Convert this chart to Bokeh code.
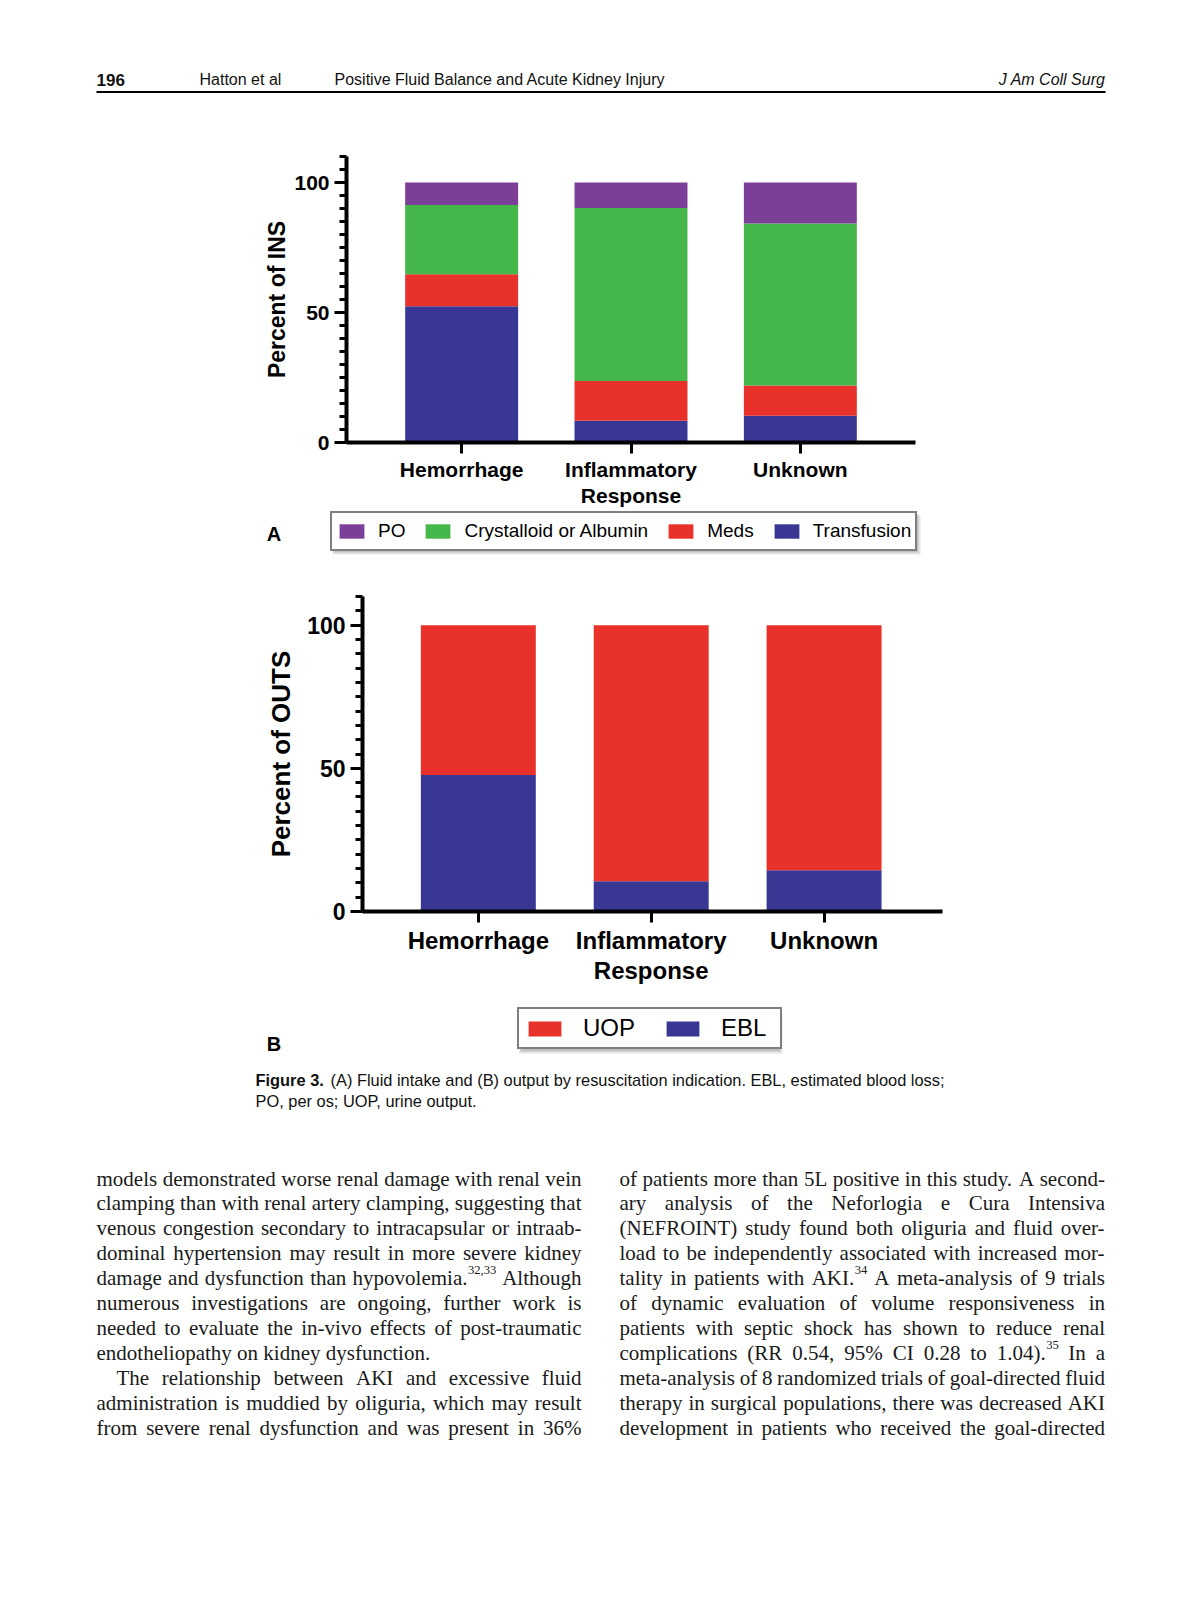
from bokeh.plotting import figure
from bokeh.layouts import column
from bokeh.models import (Range1d, FixedTicker, Legend, LegendItem, LinearAxis,
                          ColumnDataSource)
from bokeh.embed import file_html
from bokeh.resources import INLINE
from bokeh.core.properties import value

# ---------------- data ----------------
categories = ["Hemorrhage", "Inflammatory Response", "Unknown"]
# Panel A: percent of intake (INS), stacked bottom-up
transfusion = [52.4, 8.4, 10.3]
meds = [12.3, 15.3, 11.6]
crystalloid = [26.6, 66.5, 62.3]
po = [8.7, 9.8, 15.8]
# Panel B: percent of output (OUTS), stacked bottom-up
ebl = [47.7, 10.6, 14.4]
uop = [52.3, 89.4, 85.6]
y_ticks = [0, 50, 100]
y_minor_ticks = [0, 5, 10, 15, 20, 25, 30, 35, 40, 45, 50, 55, 60, 65, 70, 75,
                 80, 85, 90, 95, 100, 105, 110]

# category positions on the x scale and their (two-line) tick labels
x_pos = list(range(1, len(categories) + 1))
label_line1 = {i: c.split(" ")[0] for i, c in zip(x_pos, categories)}
label_line2 = {i: " ".join(c.split(" ")[1:]) for i, c in zip(x_pos, categories)}

PURPLE = "#7b3f98"
GREEN = "#45b649"
RED = "#e8312a"
BLUE = "#383793"

SANS = "Liberation Sans"
SERIF = "Liberation Serif"
W = 1200


def base_fig(height, **kw):
    p = figure(width=W, height=height, output_backend="svg", toolbar_location=None,
               title=None, frame_align=False, **kw)
    p.outline_line_color = None
    p.background_fill_color = "white"
    p.border_fill_color = "white"
    return p


def page_fig(height, y_top, y_bottom):
    p = base_fig(height, x_range=Range1d(0, W), y_range=Range1d(y_bottom, y_top),
                 x_axis_location=None, y_axis_location=None,
                 min_border_left=0, min_border_right=0, min_border_top=0, min_border_bottom=0)
    p.grid.visible = False
    return p


def style_axes(p, tick_fs, xlab_fs, ylab_fs, ylabel, standoff):
    for ax in (p.xaxis[0], p.yaxis[0]):
        ax.axis_line_width = 4
        ax.axis_line_color = "black"
        ax.major_tick_line_width = 3
        ax.minor_tick_line_width = 3
        ax.major_tick_in = 0
        ax.minor_tick_in = 0
        ax.major_label_text_font = SANS
        ax.major_label_text_font_style = "bold"
        ax.major_label_text_color = "black"
    ya = p.yaxis[0]
    ya.ticker = FixedTicker(ticks=y_ticks, minor_ticks=y_minor_ticks)
    ya.major_tick_out = 12
    ya.minor_tick_out = 7
    ya.major_label_text_font_size = tick_fs
    ya.major_label_standoff = 5
    ya.axis_label = ylabel
    ya.axis_label_text_font = SANS
    ya.axis_label_text_font_style = "bold"
    ya.axis_label_text_font_size = ylab_fs
    ya.axis_label_text_color = "black"
    ya.axis_label_standoff = standoff
    xa = p.xaxis[0]
    xa.ticker = FixedTicker(ticks=x_pos)
    xa.minor_tick_line_color = None
    xa.major_tick_out = 11
    xa.major_label_text_font_size = xlab_fs
    xa.major_label_standoff = 4
    xa.major_label_overrides = label_line1
    # second line of the category labels
    xa2 = LinearAxis(ticker=FixedTicker(ticks=x_pos), axis_line_color=None,
                     major_tick_line_color=None, minor_tick_line_color=None,
                     major_tick_out=0, major_tick_in=0, major_label_standoff=0,
                     major_label_overrides=label_line2,
                     major_label_text_font=SANS, major_label_text_font_style="bold",
                     major_label_text_font_size=xlab_fs, major_label_text_color="black")
    p.add_layout(xa2, "below")
    p.xgrid.visible = False
    p.ygrid.visible = False


def legend_fig(height, y_top, y_bottom, items, loc, gw, gh, standoff, spacing, padding, fs,
               label_h, label_w, shadow, letter, letter_y):
    lf = page_fig(height, y_top, y_bottom)
    l, r, t, b = shadow
    lf.quad(left=[l + 1], right=[r + 5], top=[t + 3], bottom=[b + 6],
            fill_color="#9a9a9a", fill_alpha=0.25, line_color=None)
    lf.quad(left=[l + 2], right=[r + 3], top=[t + 2], bottom=[b + 4],
            fill_color="#7a7a7a", fill_alpha=0.35, line_color=None)
    its = []
    for lab, col in items:
        # swatch-only renderer (no visible mark) that carries the series colour
        rr = lf.vbar(x=[float("nan")], top=[float("nan")], width=1,
                     fill_color=col, line_color=None)
        its.append(LegendItem(label=lab, renderers=[rr]))
    leg = Legend(items=its, orientation="horizontal", location=loc,
                 glyph_width=gw, glyph_height=gh, label_standoff=standoff,
                 spacing=spacing, padding=padding, margin=0,
                 label_height=label_h, label_width=label_w,
                 border_line_color="black", border_line_width=2,
                 background_fill_color="white", background_fill_alpha=1,
                 label_text_font=SANS, label_text_font_size=fs,
                 label_text_color="black")
    lf.add_layout(leg)
    lf.text(x=[273.5], y=[letter_y], text=[letter], text_font=value(SANS),
            text_font_style="bold", text_font_size="20px", text_align="center",
            text_baseline="middle", text_color="black")
    return lf


# ---------------- header ----------------
hdr = page_fig(140, 0, 140)
hdr.text(x=[96], y=[79], text=["196"], text_font=value(SANS), text_font_style="bold",
         text_font_size="17px", text_baseline="middle", text_color="#111111")
hdr.text(x=[199, 334], y=[79, 79],
         text=["Hatton et al", "Positive Fluid Balance and Acute Kidney Injury"],
         text_font=value(SANS), text_font_size="16px", text_baseline="middle",
         text_color="#111111")
hdr.text(x=[1105], y=[79], text=["J Am Coll Surg"], text_font=value(SANS),
         text_font_style="italic", text_font_size="16px", text_baseline="middle",
         text_align="right", text_color="#111111")
hdr.segment(x0=[96], y0=[91.5], x1=[1105], y1=[91.5], line_color="black", line_width=2)

# ---------------- panel A ----------------
pA = base_fig(370, x_range=Range1d(x_pos[0] - 0.68, x_pos[-1] + 0.68),
              y_range=Range1d(0, 110),
              min_border_left=346, min_border_right=285,
              min_border_top=16, min_border_bottom=68)
srcA = ColumnDataSource(dict(x=x_pos, cat=categories, Transfusion=transfusion, Meds=meds,
                             Crystalloid=crystalloid, PO=po))
rA = pA.vbar_stack(["Transfusion", "Meds", "Crystalloid", "PO"], x="x", width=0.667,
                   source=srcA, fill_color=[BLUE, RED, GREEN, PURPLE], line_color=None)
style_axes(pA, "21px", "21px", "23px", "Percent of INS", 1)

legA = legend_fig(50, 510, 560,
                  [("PO", PURPLE), ("Crystalloid or Albumin", GREEN), ("Meds", RED),
                   ("Transfusion", BLUE)],
                  (330, 9), 31, 18, 11, 17, 4, "19px", 28, 20,
                  (331, 915, 512, 548), "A", 533)

# ---------------- panel B ----------------
pB = base_fig(432, x_range=Range1d(x_pos[0] - 0.67, x_pos[-1] + 0.685),
              y_range=Range1d(0, 110),
              min_border_left=362, min_border_right=258,
              min_border_top=36, min_border_bottom=81)
srcB = ColumnDataSource(dict(x=x_pos, cat=categories, EBL=ebl, UOP=uop))
rB = pB.vbar_stack(["EBL", "UOP"], x="x", width=0.665, source=srcB,
                   fill_color=[BLUE, RED], line_color=None)
style_axes(pB, "23px", "24px", "26px", "Percent of OUTS", 8)

legB = legend_fig(68, 992, 1060, [("UOP", RED), ("EBL", BLUE)],
                  (517, 11), 41, 19, 18, 25, 5, "24px", 20, 54,
                  (518, 777, 1010, 1047), "B", 1043)

# ---------------- caption + body text ----------------
txt = page_fig(553, 1060, 1613)
txt.text(x=[255], y=[1079], text=["Figure 3."], text_font=value(SANS),
         text_font_style="bold", text_font_size="16.4px", text_baseline="middle",
         text_color="#111111")
txt.text(x=[330, 255], y=[1079, 1100],
         text=["(A) Fluid intake and (B) output by resuscitation indication. EBL, estimated blood loss;",
               "PO, per os; UOP, urine output."],
         text_font=value(SANS), text_font_size="16.4px", text_baseline="middle",
         text_color="#111111")

left_lines = [
    ("J", "models demonstrated worse renal damage with renal vein"),
    ("J", "clamping than with renal artery clamping, suggesting that"),
    ("J", "venous congestion secondary to intracapsular or intraab-"),
    ("J", "dominal hypertension may result in more severe kidney"),
    ("J", "damage and dysfunction than hypovolemia.{32,33} Although"),
    ("J", "numerous investigations are ongoing, further work is"),
    ("J", "needed to evaluate the in-vivo effects of post-traumatic"),
    ("L", "endotheliopathy on kidney dysfunction."),
    ("I", "The relationship between AKI and excessive fluid"),
    ("J", "administration is muddied by oliguria, which may result"),
    ("J", "from severe renal dysfunction and was present in 36%"),
]
right_lines = [
    ("J", "of patients more than 5L positive in this study. A second-"),
    ("J", "ary analysis of the Neforlogia e Cura Intensiva"),
    ("J", "(NEFROINT) study found both oliguria and fluid over-"),
    ("J", "load to be independently associated with increased mor-"),
    ("J", "tality in patients with AKI.{34} A meta-analysis of 9 trials"),
    ("J", "of dynamic evaluation of volume responsiveness in"),
    ("J", "patients with septic shock has shown to reduce renal"),
    ("J", "complications (RR 0.54, 95% CI 0.28 to 1.04).{35} In a"),
    ("J", "meta-analysis of 8 randomized trials of goal-directed fluid"),
    ("J", "therapy in surgical populations, there was decreased AKI"),
    ("J", "development in patients who received the goal-directed"),
]

# Times/Liberation Serif advance widths (1/1000 em) used to justify the columns
_TW = {" ": 250, "%": 833, "(": 333, ")": 333, ",": 250, "-": 333, ".": 250, ":": 278, ";": 278,
       "A": 722, "B": 667, "C": 667, "D": 722, "E": 611, "F": 556, "G": 722, "H": 722, "I": 333,
       "J": 389, "K": 722, "L": 611, "M": 889, "N": 722, "O": 722, "P": 556, "Q": 722, "R": 667,
       "S": 556, "T": 611, "U": 722, "V": 722, "W": 944, "X": 722, "Y": 722, "Z": 611,
       "a": 444, "b": 500, "c": 444, "d": 500, "e": 444, "f": 333, "g": 500, "h": 500, "i": 278,
       "j": 278, "k": 500, "l": 278, "m": 778, "n": 500, "o": 500, "p": 500, "q": 500, "r": 333,
       "s": 389, "t": 278, "u": 500, "v": 500, "w": 722, "x": 500, "y": 500, "z": 444}
FS = 21.0
SUP = 0.6


def tw(s, fs):
    return sum(_TW.get(c, 500) for c in s) * fs / 1000.0


def split_word(wd):
    if "{" in wd:
        base, rest = wd.split("{", 1)
        return base, rest.rstrip("}")
    return wd, ""


norm = dict(x=[], y=[], t=[])
sup = dict(x=[], y=[], t=[])


def layout_column(lines, x0, x1, y0, lh):
    for i, (kind, line) in enumerate(lines):
        y = y0 + i * lh
        words = [split_word(w) for w in line.split(" ")]
        widths = [tw(b, FS) + tw(s, FS * SUP) for b, s in words]
        start = x0 + (20 if kind == "I" else 0)
        if kind == "L" or len(words) == 1:
            gap = tw(" ", FS)
        else:
            gap = (x1 - start - sum(widths)) / (len(words) - 1)
        x = start
        for (b, s), wdt in zip(words, widths):
            norm["x"].append(x)
            norm["y"].append(y)
            norm["t"].append(b)
            if s:
                sup["x"].append(x + tw(b, FS) + 0.5)
                sup["y"].append(y - 8)
                sup["t"].append(s)
            x += wdt + gap


layout_column(left_lines, 96, 581, 1178, 24.9)
layout_column(right_lines, 619, 1104.5, 1178, 24.9)

txt.text(x="x", y="y", text="t", source=ColumnDataSource(norm), text_font=value(SERIF),
         text_font_size="21px", text_baseline="alphabetic", text_color="#1a1a1a")
txt.text(x="x", y="y", text="t", source=ColumnDataSource(sup), text_font=value(SERIF),
         text_font_size="12.6px", text_baseline="alphabetic", text_color="#1a1a1a")

layout = column(hdr, pA, legA, pB, legB, txt, spacing=0)
open("out.html", "w").write(file_html(layout, INLINE))
